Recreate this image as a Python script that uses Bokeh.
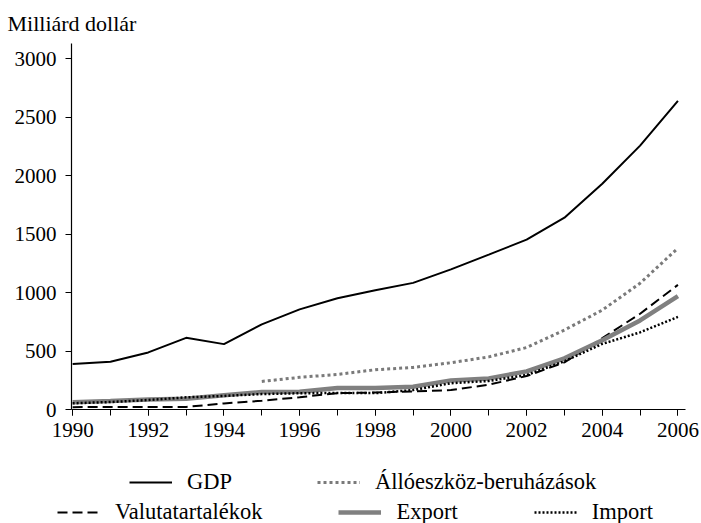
from bokeh.plotting import figure
from bokeh.models import Legend, LegendItem, SingleIntervalTicker, FixedTicker, Range1d, Title
from bokeh.embed import file_html
from bokeh.resources import INLINE

years = list(range(1990, 2007))
gdp = [390, 409, 488, 613, 559, 728, 856, 952, 1019, 1083, 1198, 1324, 1453, 1640, 1931, 2257, 2640]
inv_years = list(range(1995, 2007))
investment = [240, 275, 300, 340, 360, 400, 450, 530, 680, 850, 1080, 1380]
reserves = [20, 22, 21, 22, 52, 75, 105, 140, 145, 155, 166, 212, 286, 403, 610, 819, 1066]
export = [62, 72, 85, 92, 121, 149, 151, 183, 184, 195, 249, 266, 326, 438, 593, 762, 969]
imports = [53, 64, 81, 104, 116, 132, 139, 142, 140, 166, 225, 244, 295, 413, 561, 660, 792]

y_ticks = [0, 500, 1000, 1500, 2000, 2500, 3000]
unit_label = "Milliárd dollár"
names = ["GDP", "Állóeszköz-beruházások", "Valutatartalékok", "Export", "Import"]

FONT = "Liberation Serif"

styles = {
    "gdp": dict(line_color="black", line_width=2),
    "inv": dict(line_color="#7a7a7a", line_width=3, line_dash="3 3"),
    "res": dict(line_color="black", line_width=2, line_dash="10 5"),
    "exp": dict(line_color="#808080", line_width=4.5),
    "imp": dict(line_color="black", line_width=2.5, line_dash="2 2"),
}
series = {
    "gdp": (years, gdp),
    "inv": (inv_years, investment),
    "res": (years, reserves),
    "exp": (years, export),
    "imp": (years, imports),
}

p = figure(width=701, height=455, output_backend="svg", toolbar_location=None,
           x_range=Range1d(1989.97, 2006.2), y_range=Range1d(0, 3130),
           min_border_left=71, min_border_right=16, min_border_top=43, min_border_bottom=46)
p.outline_line_color = None
p.xgrid.grid_line_color = None
p.ygrid.grid_line_color = None

t = Title(text=unit_label, align="left", offset=-64, text_font=FONT,
          text_font_size="22px", text_font_style="normal", text_color="black", standoff=16)
p.add_layout(t, "above")

for ax in (p.xaxis[0], p.yaxis[0]):
    ax.axis_line_color = "black"
    ax.axis_line_width = 1.2
    ax.major_tick_line_color = "black"
    ax.minor_tick_line_color = "black"
    ax.major_tick_in = 0
    ax.minor_tick_in = 0
    ax.major_tick_out = 6
    ax.minor_tick_out = 6
    ax.major_label_text_font = FONT
    ax.major_label_text_font_size = "21px"
    ax.major_label_text_color = "black"

p.xaxis[0].ticker = SingleIntervalTicker(interval=2, num_minor_ticks=2)
p.yaxis[0].ticker = FixedTicker(ticks=y_ticks)
p.yaxis[0].minor_tick_line_color = None
p.yaxis[0].major_label_standoff = 9
p.xaxis[0].major_label_standoff = 7

for k in ["gdp", "inv", "res", "exp", "imp"]:
    xs, ys = series[k]
    p.line(xs, ys, **styles[k])

# legend panel below the chart (series drawn out of view, used as legend handles)
lf = figure(width=701, height=68, output_backend="svg", toolbar_location=None,
            x_axis_location=None, y_axis_location=None,
            x_range=Range1d(0, 1), y_range=Range1d(-10000, -9999),
            min_border_left=0, min_border_right=0, min_border_top=0, min_border_bottom=0)
lf.outline_line_color = None
lf.xgrid.grid_line_color = None
lf.ygrid.grid_line_color = None
lr = {k: lf.line(series[k][0], series[k][1], **styles[k]) for k in styles}

def mk_legend(items, x, y, spacing):
    return Legend(items=items, orientation="horizontal", location=(x, y),
                  glyph_width=43, glyph_height=16, label_standoff=15, spacing=spacing,
                  padding=0, margin=0, border_line_color=None, background_fill_alpha=0,
                  label_text_font=FONT, label_text_font_size="22.5px", label_height=16,
                  label_text_color="black")

leg1 = mk_legend([LegendItem(label=names[0], renderers=[lr["gdp"]]),
                  LegendItem(label=names[1], renderers=[lr["inv"]])], 129, 28, 85)
leg2 = mk_legend([LegendItem(label=names[2], renderers=[lr["res"]]),
                  LegendItem(label=names[3], renderers=[lr["exp"]]),
                  LegendItem(label=names[4], renderers=[lr["imp"]])], 57, -2, 76)
lf.add_layout(leg1, "center")
lf.add_layout(leg2, "center")

open("out.html", "w").write(file_html([p, lf], INLINE))
